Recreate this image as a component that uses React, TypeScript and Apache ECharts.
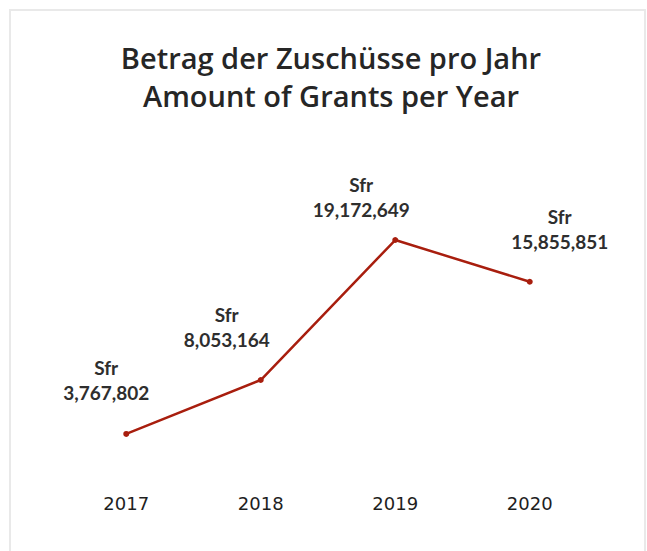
import React, { useEffect, useRef } from "react";
import * as echarts from "echarts";

const years = ["2017", "2018", "2019", "2020"];
const grantAmounts = [3767802, 8053164, 19172649, 15855851];
const currencyLabel = "Sfr";
const titleLines = ["Betrag der Zuschüsse pro Jahr", "Amount of Grants per Year"];

// label placement tweaks (layout only)
const labelOffsets: [number, number][] = [
  [-20, -25.5],
  [-34, -25],
  [-34, -15],
  [30, -25],
];

const fmt = (v: number) => v.toLocaleString("en-US");

export default function App() {
  const ref = useRef<HTMLDivElement>(null);
  useEffect(() => {
    if (!ref.current) return;
    const chart = echarts.init(ref.current, null, { renderer: "svg" });
    const lineColor = "#a81e0e";
    chart.setOption({
      animation: false,
      backgroundColor: "#ffffff",
      graphic: [
        {
          type: "rect",
          z: -10,
          shape: { x: 10, y: 10, width: 635, height: 580 },
          style: { fill: "#ffffff", stroke: "#e9e9e9", lineWidth: 2 },
        },
      ],
      title: {
        text: titleLines.join("\n"),
        left: 326,
        top: 33,
        textAlign: "center",
        textStyle: {
          fontFamily: "Open Sans",
          fontWeight: 600,
          fontSize: 29,
          lineHeight: 38,
          color: "#262626",
        },
      },
      grid: { left: 59, right: 50, top: 229.6, bottom: 69.6 },
      xAxis: {
        type: "category",
        data: years,
        boundaryGap: true,
        axisLine: { show: false },
        axisTick: { show: false },
        splitLine: { show: false },
        axisLabel: {
          margin: 13,
          fontSize: 18,
          fontFamily: "DejaVu Sans",
          color: "#1e1e1e",
        },
      },
      yAxis: {
        type: "value",
        min: 0,
        max: 20000000,
        show: false,
        splitLine: { show: false },
      },
      series: [
        {
          type: "line",
          data: grantAmounts.map((v, i) => ({
            value: v,
            label: { offset: labelOffsets[i] },
          })),
          symbol: "circle",
          symbolSize: 6,
          lineStyle: { color: lineColor, width: 2.5 },
          itemStyle: { color: lineColor },
          label: {
            show: true,
            position: "top",
            distance: 0,
            formatter: (p: any) => `${currencyLabel}\n${fmt(p.value)}`,
            fontFamily: "Lato",
            fontWeight: "bold",
            fontSize: 19,
            lineHeight: 25,
            color: "#2e2e2e",
            align: "center",
          },
        },
      ],
    });
    return () => chart.dispose();
  }, []);
  return (
    <div
      ref={ref}
      style={{ position: "absolute", left: 0, top: 0, width: 647, height: 551 }}
    />
  );
}
